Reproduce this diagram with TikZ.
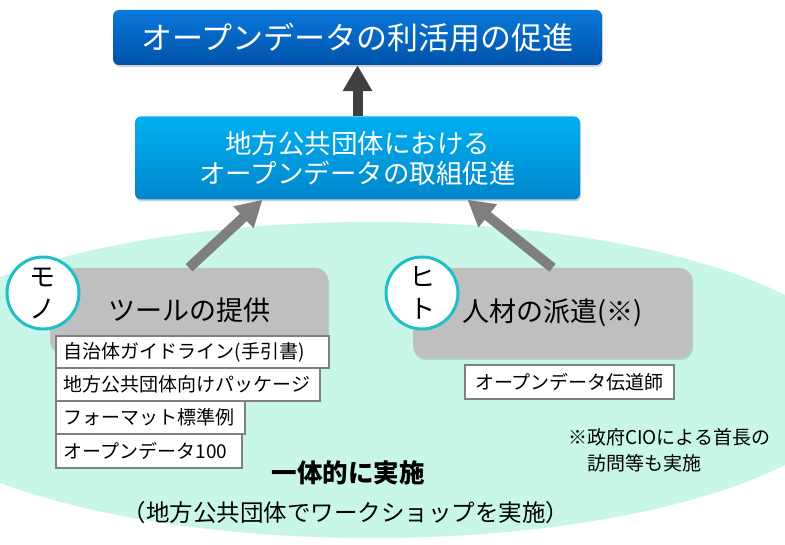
\documentclass[tikz,border=0pt]{standalone}
\usepackage{fontspec}
\setmainfont{Noto Sans CJK JP}
\usetikzlibrary{arrows.meta,shadows}
\definecolor{bgmint}{HTML}{C8F7EA}
\definecolor{topA}{HTML}{0A78DC}
\definecolor{topB}{HTML}{0052A8}
\definecolor{midA}{HTML}{00B0F0}
\definecolor{midB}{HTML}{0086CC}
\definecolor{graybox}{HTML}{BFBFBF}
\definecolor{ring}{HTML}{1EBFC9}
\definecolor{darkarrow}{HTML}{404040}
\definecolor{grayarrow}{HTML}{7F7F7F}
\definecolor{wborder}{HTML}{808080}
\tikzset{
  fs/.style={font=\fontsize{#1}{#1}\selectfont},
  bluebox/.style={rounded corners=6pt, inner sep=0pt, text=white, align=center,
    drop shadow={shadow xshift=1pt, shadow yshift=-2pt, opacity=0.35}},
  graytile/.style={rounded corners=12pt, fill=graybox, inner sep=0pt,
    drop shadow={shadow xshift=1pt, shadow yshift=-2pt, opacity=0.3}},
  tag/.style={circle, draw=ring, line width=3pt, fill=white, minimum size=72pt,
    inner sep=0pt, align=center},
  wbox/.style={draw=wborder, line width=1.8pt, fill=white, anchor=north west,
    minimum height=#1, inner xsep=8pt, inner ysep=0pt, align=left, fs=19},
  fatarrow/.style={line width=10pt, -{Triangle[width=28pt,length=26pt]}},
}
\begin{document}
\begin{tikzpicture}[x=1pt,y=-1pt]
\useasboundingbox (0,0) rectangle (785,545);
\fill[white] (0,0) rectangle (785,545);
\begin{scope}
\clip (0,0) rectangle (785,545);
\fill[bgmint] (372,380) ellipse [x radius=490, y radius=158];
\end{scope}

\node[bluebox, top color=topA, bottom color=topB, minimum width=489pt, minimum height=55pt, fs=31]
  (top) at (357.5,37.5) {オープンデータの利活用の促進};
\node[bluebox, top color=midA, bottom color=midB, minimum width=445pt, minimum height=83pt,
  font=\fontsize{26.5}{30}\selectfont]
  (mid) at (357.5,158) {地方公共団体における\\オープンデータの取組促進};

\node[graytile, minimum width=278pt, minimum height=85pt, fs=27] (tool) at (189,310.5) {ツールの提供};
\node[graytile, minimum width=279pt, minimum height=90pt, fs=27] (hito) at (552.5,313) {人材の派遣(※)};

\draw[darkarrow, fatarrow] (mid.north) -- (top.south);
\draw[grayarrow, fatarrow] (tool.north) -- ([xshift=-95pt]mid.south);
\draw[grayarrow, fatarrow] (hito.north) -- ([xshift=110pt]mid.south);

\node[tag, font=\fontsize{26}{32}\selectfont] (mono) at (43,293) {モ\\ノ};
\node[tag, font=\fontsize{26}{32}\selectfont] (hitotag) at (422,293) {ヒ\\ト};

\node[wbox=32pt, text width=257pt] (b1) at (55,335) {自治体ガイドライン(手引書)};
\node[wbox=33pt, text width=248pt] (b2) at (55,367) {地方公共団体向けパッケージ};
\node[wbox=33pt, text width=173pt] (b3) at (55,400) {フォーマット標準例};
\node[wbox=34pt, text width=170pt] (b4) at (55,433) {オープンデータ100};
\node[wbox=34pt, minimum width=209pt, anchor=center, align=center] (b5) at (569.5,382) {オープンデータ伝道師};

\node[anchor=west, inner sep=0pt, fs=19] (n1) at (568,437) {※政府CIOによる首長の};
\node[anchor=west, inner sep=0pt, fs=19] (n2) at (587,463) {訪問等も実施};

\node[inner sep=0pt, font=\bfseries\fontsize{25.5}{30}\selectfont] (together) at (348,473) {一体的に実施};
\node[inner sep=0pt, fs=23.5] (ws) at (346,513) {（地方公共団体でワークショップを実施）};
\end{tikzpicture}
\end{document}
